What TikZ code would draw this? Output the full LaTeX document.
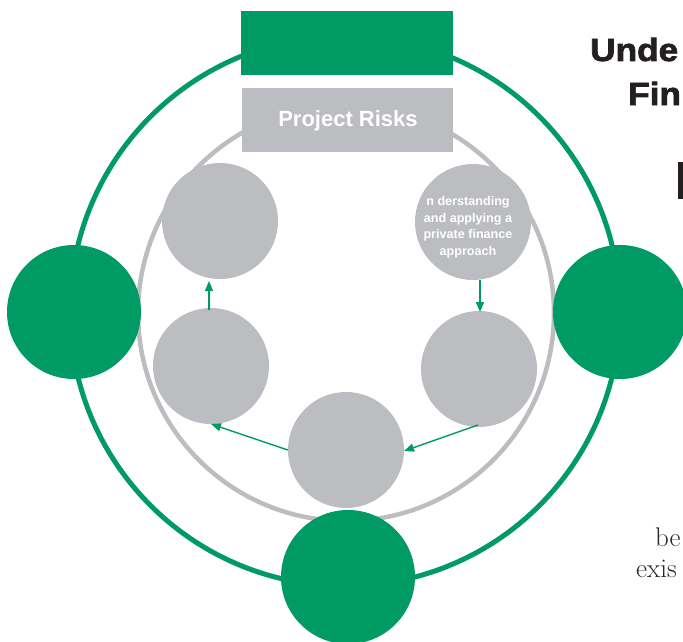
\documentclass[tikz,border=0pt]{standalone}
\usepackage{fontspec}
\setmainfont{Latin Modern Roman}
\newfontfamily\headfont{Liberation Sans}
\newfontfamily\blackfont[FakeBold=2.2,FakeStretch=1.1]{Liberation Sans Bold}
\usetikzlibrary{arrows.meta}
\definecolor{pgreen}{HTML}{009B65}
\definecolor{pgray}{HTML}{BCBDC0}
\definecolor{pblack}{HTML}{231F20}
\tikzset{
  greendisc/.style={circle,fill=pgreen,minimum size=134pt,inner sep=0pt},
  graydisc/.style={circle,fill=pgray,minimum size=116pt,inner sep=0pt},
  flowarrow/.style={draw=pgreen,line width=1.4pt,-{Triangle[length=10pt,width=8pt]}},
  headtext/.style={text=pblack,inner sep=0pt,anchor=base west},
  bodytext/.style={font=\fontsize{27}{32}\selectfont,text=black!85,inner sep=0pt,anchor=base west}
}
\begin{document}
\begin{tikzpicture}[x=1pt,y=-1pt]
\useasboundingbox (0,0) rectangle (683,642);
% rings
\draw[pgreen,line width=5pt] (345,311) circle[radius=275];
\draw[pgray,line width=4.5pt] (346,313) circle[radius=208];
% boxes
\node[fill=pgreen,minimum width=212pt,minimum height=64pt,inner sep=0pt] (gbox) at (347,43) {};
\node[fill=pgray,minimum width=211pt,minimum height=64pt,inner sep=0pt] (risks) at (347.5,120) {};
\node[text=white,font=\headfont\bfseries\fontsize{22}{26}\selectfont,inner sep=0pt,anchor=base] (risklabel) at (348,126) {Project Risks};
% green discs
\node[greendisc] (gl) at (74,312) {};
\node[greendisc] (gr) at (620,312) {};
\node[greendisc] (gb) at (348,577) {};
% gray discs
\node[graydisc] (tl) at (220,221) {};
\node[graydisc] (tr) at (473,222) {};
\node[align=center,text=white,inner sep=0pt,font=\headfont\bfseries\fontsize{12.6}{16.5}\selectfont] (trlabel) at (468,227) {n\ derstanding\\and applying a\\private finance\\approach};
\node[graydisc] (ml) at (211,366) {};
\node[graydisc] (mr) at (479,369) {};
\node[graydisc] (bm) at (346,450) {};
% arrows
\coordinate (a1s) at (209,310);
\coordinate (a1e) at (209,281);
\coordinate (a2s) at (480,280);
\coordinate (a2e) at (480,312);
\coordinate (a3e) at (211,424);
\coordinate (a4s) at (478,425);
\coordinate (a4e) at (404,451);
\draw[flowarrow] (a1s) -- (a1e);
\draw[flowarrow] (a2s) -- (a2e);
\draw[flowarrow] (bm.west) -- (a3e);
\draw[flowarrow] (a4s) -- (a4e);
% right-hand text
\node[headtext,font=\blackfont\fontsize{32}{36}\selectfont] (t1) at (590,61) {Unde};
\node[headtext,font=\blackfont\fontsize{32}{36}\selectfont] (t2) at (628,105) {Fin};
\fill[pblack] (678,162) rectangle (683,199);
\node[bodytext] (b1) at (655,546) {be};
\node[bodytext] (b2) at (636,577) {exis};
\end{tikzpicture}
\end{document}
